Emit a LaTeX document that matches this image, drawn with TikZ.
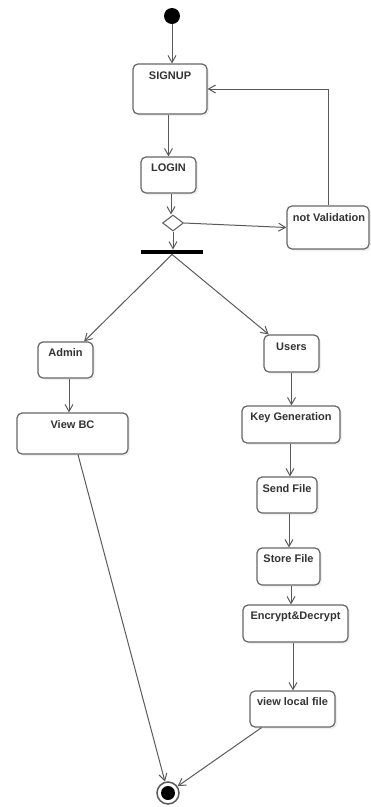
\documentclass[tikz,border=0pt]{standalone}
\usepackage{fontspec}
\setmainfont{Liberation Sans}
\usetikzlibrary{arrows.meta,shapes.geometric,shadows,calc}
\definecolor{edgec}{HTML}{5A5A5A}
\definecolor{boxc}{HTML}{666666}
\definecolor{txtc}{HTML}{333333}
\tikzset{
  actbox/.style={draw=boxc, line width=1.2pt, rounded corners=5pt, fill=white, inner sep=0pt,
    drop shadow={opacity=0.12, shadow xshift=2pt, shadow yshift=-2pt}},
  lbl/.style={font=\fontsize{11}{13}\selectfont\bfseries, text=txtc, inner sep=0pt},
  flow/.style={draw=edgec, line width=1pt, -{Straight Barb[length=7pt, width=8pt, line width=1pt]}},
}
\begin{document}
\begin{tikzpicture}[x=1pt, y=-1pt]
\useasboundingbox (0,0) rectangle (370,807);
% start / end
\node[circle, fill=black, minimum size=16pt, inner sep=0pt] (start) at (172,16) {};
\node[circle, draw=edgec, line width=1.5pt, fill=white, minimum size=22pt, inner sep=0pt] (end) at (168,793) {};
\fill[black] (end.center) circle (7pt);
% boxes
\node[actbox, minimum width=74pt, minimum height=50pt] (signup) at (170,89) {};
\node[lbl] (signupT) at (170,76) {SIGNUP};
\node[actbox, minimum width=55pt, minimum height=36pt] (login) at (168.5,175) {};
\node[lbl] (loginT) at (168.5,168) {LOGIN};
\node[draw=boxc, line width=1.1pt, fill=white, diamond, minimum width=21pt, minimum height=16pt, inner sep=0pt] (dia) at (173,223) {};
\node[fill=black, minimum width=62pt, minimum height=4.5pt, inner sep=0pt] (bar) at (172,252) {};
\node[actbox, minimum width=82pt, minimum height=43pt] (notval) at (328,227.5) {};
\node[lbl] (notvalT) at (329,218) {not Validation};
\node[actbox, minimum width=55pt, minimum height=36pt] (admin) at (65.5,360) {};
\node[lbl] (adminT) at (65.5,353) {Admin};
\node[actbox, minimum width=55pt, minimum height=37pt] (users) at (291.5,353.5) {};
\node[lbl] (usersT) at (291.5,347) {Users};
\node[actbox, minimum width=111pt, minimum height=41pt] (viewbc) at (72.5,433.5) {};
\node[lbl] (viewbcT) at (72.5,425) {View BC};
\node[actbox, minimum width=98pt, minimum height=37pt] (keygen) at (291,424.5) {};
\node[lbl] (keygenT) at (291,418) {Key Generation};
\node[actbox, minimum width=60pt, minimum height=36pt] (send) at (287,495) {};
\node[lbl] (sendT) at (287,489) {Send File};
\node[actbox, minimum width=63pt, minimum height=37pt] (store) at (288.5,566.5) {};
\node[lbl] (storeT) at (288.5,559) {Store File};
\node[actbox, minimum width=105pt, minimum height=37pt] (enc) at (295.5,623.5) {};
\node[lbl] (encT) at (295.5,617) {Encrypt\&Decrypt};
\node[actbox, minimum width=85pt, minimum height=36pt] (vlocal) at (292.5,709) {};
\node[lbl] (vlocalT) at (292.5,702) {view local file};
% connectors
\draw[flow] (start) -- (start |- signup.north);
\draw[flow] (signup.south -| login.north) -- (login.north);
\draw[flow] (login.south -| 171,0) -- (dia.north -| 171,0);
\draw[flow] (dia.south) -- (dia.south |- bar.north);
\draw[flow] (dia.east) -- (notval.west);
\draw[flow] (notval.north) |- (signup.east);
\draw[flow] (bar.south) -- (admin.45);
\draw[flow] (bar.south) -- (users.140);
\draw[flow] (admin.south -| 69,0) -- (viewbc.north -| 69,0);
\draw[flow] (users.south) -- (users.south |- keygen.north);
\draw[flow] (keygen.south -| 290,0) -- (send.north -| 290,0);
\draw[flow] (send.south -| 289,0) -- (store.north -| 289,0);
\draw[flow] (store.south -| 291,0) -- (enc.north -| 291,0);
\draw[flow] (enc.south -| 293,0) -- (vlocal.north -| 293,0);
\draw[flow] (viewbc.south -| 78,0) -- (end);
\draw[flow] (vlocal.211) -- (end);
\end{tikzpicture}
\end{document}
